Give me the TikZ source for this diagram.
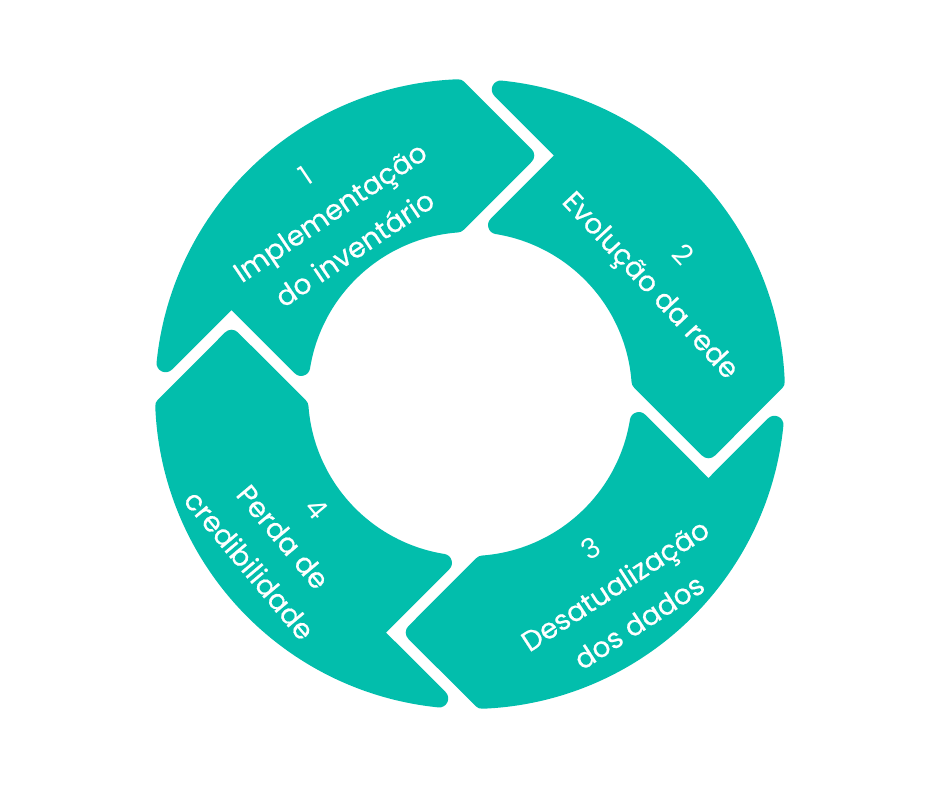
\documentclass[tikz,border=0pt]{standalone}
\usepackage{fontspec}
\setmainfont{Poppins}
\newfontfamily\medfont{Poppins}[FakeBold=0.5]
\definecolor{ringteal}{RGB}{2,190,172}
\begin{document}
\begin{tikzpicture}[x=100pt,y=100pt,
  seg/.style={fill=ringteal,draw=ringteal,line width=18pt,line join=round},
  lbl/.style={text=white,align=center,font=\medfont\fontsize{28}{44}\selectfont,inner sep=0pt}]
\useasboundingbox (-4.70,-3.94) rectangle (4.70,3.94);
\pgfmathsetmacro\Crad{0.09}
\pgfmathsetmacro\Ro{3.15-\Crad}
\pgfmathsetmacro\Ri{1.62+\Crad}
\pgfmathsetmacro\Mid{(3.15+1.62)/2}
\pgfmathsetmacro\ce{0.68-\Crad*sqrt(2)}
\pgfmathsetmacro\cs{0.84+\Crad*sqrt(2)}
\pgfmathsetmacro\tEa{(-(\Mid-\ce)+sqrt((\Mid-\ce)^2-2*(\ce^2+\Mid^2-\Ro^2)))/2}
\pgfmathsetmacro\tEb{((\ce+\Mid)-sqrt((\ce+\Mid)^2-2*(\ce^2+\Mid^2-\Ri^2)))/2}
\pgfmathsetmacro\tSa{(-(\Mid-\cs)+sqrt((\Mid-\cs)^2-2*(\cs^2+\Mid^2-\Ro^2)))/2}
\pgfmathsetmacro\tSb{((\cs+\Mid)-sqrt((\cs+\Mid)^2-2*(\cs^2+\Mid^2-\Ri^2)))/2}
\pgfmathsetmacro\aEo{atan2(\Mid+\tEa,\ce-\tEa)}
\pgfmathsetmacro\aEi{atan2(\Mid-\tEb,\ce-\tEb)}
\pgfmathsetmacro\aSo{atan2(\Mid+\tSa,\cs-\tSa)+90}
\pgfmathsetmacro\aSi{atan2(\Mid-\tSb,\cs-\tSb)+90}
\foreach \k in {0,1,2,3}{
  \begin{scope}[rotate=-90*\k]
    \path[seg] (\aSo:\Ro) arc[start angle=\aSo,end angle=\aEo,radius=\Ro]
      -- (\ce,\Mid) -- (\aEi:\Ri)
      arc[start angle=\aEi,end angle=\aSi,radius=\Ri]
      -- (-\Mid,\cs) -- cycle;
  \end{scope}
}
\node[lbl,rotate=34] (t1) at (-1.40,1.82) {{\rmfamily 1}\\Implementação\\do inventário};
\node[lbl,rotate=-47] (t2) at (1.95,1.22) {{\rmfamily 2}\\Evolução da rede};
\node[lbl,rotate=33] (t3) at (1.45,-1.91) {{\rmfamily 3}\\Desatualização\\dos dados};
\node[lbl,rotate=-50] (t4) at (-1.87,-1.43) {{\rmfamily 4}\\Perda de\\credibilidade};
\end{tikzpicture}
\end{document}
